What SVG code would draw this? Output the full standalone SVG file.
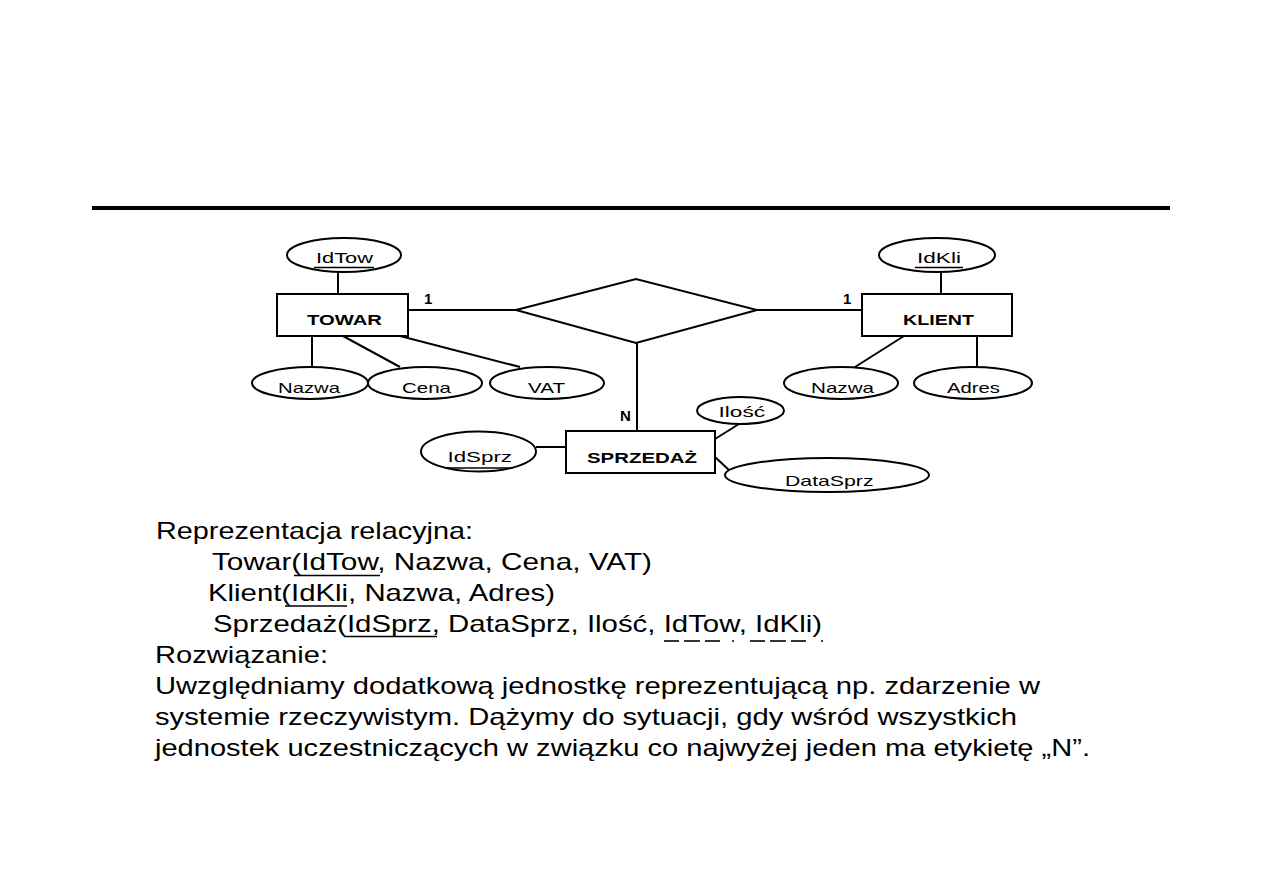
<svg xmlns="http://www.w3.org/2000/svg" width="1263" height="893" viewBox="0 0 1263 893">
<style>
.s{fill:none;stroke:#000;stroke-width:2}
.e{fill:#fff;stroke:#000;stroke-width:2}
.t{font-family:"Liberation Sans",Arial,sans-serif;fill:#000}
.lab{font-size:15px}
.ent{font-size:15px;font-weight:bold}
.card{font-size:15px;font-weight:bold}
.body{font-size:24px}
.ul{stroke:#000;stroke-width:1.6}
</style>
<rect width="1263" height="893" fill="#fff"/>
<line x1="92" y1="208" x2="1170" y2="208" stroke="#000" stroke-width="4"/>

<g id="connectors">
<line class="s" x1="338" y1="272" x2="338" y2="294"/>
<line class="s" x1="408" y1="310" x2="516" y2="310"/>
<line class="s" x1="312" y1="336" x2="312" y2="367"/>
<line class="s" x1="343" y1="336" x2="400" y2="367"/>
<line class="s" x1="400" y1="336" x2="520" y2="367"/>
<line class="s" x1="757" y1="310" x2="862" y2="310"/>
<line class="s" x1="941" y1="272" x2="941" y2="294"/>
<line class="s" x1="904" y1="336" x2="855" y2="367"/>
<line class="s" x1="977" y1="336" x2="977" y2="367"/>
<line class="s" x1="637" y1="343" x2="637" y2="431"/>
<line class="s" x1="536" y1="447" x2="566" y2="447"/>
<line class="s" x1="715" y1="439" x2="739" y2="424"/>
<line class="s" x1="715" y1="457" x2="729" y2="470"/>
</g>

<g id="rel">
<polygon class="e" points="516,310 636,279 757,310 636,343"/>
</g>

<g id="towar">
<rect class="e" x="277" y="294" width="131" height="42"/>
<text class="t ent" x="307" y="325" textLength="75" lengthAdjust="spacingAndGlyphs">TOWAR</text>
</g>
<g id="towar-card"><text class="t card" x="424" y="304">1</text></g>
<g id="idtow">
<ellipse class="e" cx="344" cy="255" rx="57" ry="17"/>
<text class="t lab" x="316" y="263" textLength="57" lengthAdjust="spacingAndGlyphs">IdTow</text>
<line class="ul" x1="314" y1="267.5" x2="374" y2="267.5"/>
</g>
<g id="nazwa1">
<ellipse class="e" cx="310" cy="383" rx="58" ry="16"/>
<text class="t lab" x="278" y="393" textLength="62" lengthAdjust="spacingAndGlyphs">Nazwa</text>
</g>
<g id="cena">
<ellipse class="e" cx="425" cy="383" rx="57" ry="16"/>
<text class="t lab" x="402" y="393" textLength="49" lengthAdjust="spacingAndGlyphs">Cena</text>
</g>
<g id="vat">
<ellipse class="e" cx="547" cy="383" rx="57" ry="16"/>
<text class="t lab" x="528" y="393" textLength="37" lengthAdjust="spacingAndGlyphs">VAT</text>
</g>

<g id="klient">
<rect class="e" x="862" y="294" width="150" height="42"/>
<text class="t ent" x="903" y="325" textLength="71" lengthAdjust="spacingAndGlyphs">KLIENT</text>
</g>
<g id="klient-card"><text class="t card" x="843" y="304">1</text></g>
<g id="idkli">
<ellipse class="e" cx="937" cy="255" rx="58" ry="17"/>
<text class="t lab" x="917" y="263" textLength="44" lengthAdjust="spacingAndGlyphs">IdKli</text>
<line class="ul" x1="915" y1="267.5" x2="963" y2="267.5"/>
</g>
<g id="nazwa2">
<ellipse class="e" cx="841" cy="383" rx="57" ry="16"/>
<text class="t lab" x="811" y="393" textLength="63" lengthAdjust="spacingAndGlyphs">Nazwa</text>
</g>
<g id="adres">
<ellipse class="e" cx="973" cy="383" rx="59" ry="16"/>
<text class="t lab" x="947" y="393" textLength="53" lengthAdjust="spacingAndGlyphs">Adres</text>
</g>

<g id="sprzedaz">
<rect class="e" x="566" y="431" width="149" height="42"/>
<text class="t ent" x="587" y="463" textLength="110" lengthAdjust="spacingAndGlyphs">SPRZEDAŻ</text>
</g>
<g id="sprzedaz-card"><text class="t card" x="620" y="421">N</text></g>
<g id="idsprz">
<ellipse class="e" cx="478.5" cy="451.5" rx="57.5" ry="20"/>
<text class="t lab" x="447.5" y="462" textLength="64.5" lengthAdjust="spacingAndGlyphs">IdSprz</text>
<line class="ul" x1="446" y1="468" x2="513" y2="468"/>
</g>
<g id="ilosc">
<ellipse class="e" cx="740.5" cy="410.5" rx="43.5" ry="13.5"/>
<text class="t lab" x="718.5" y="417" textLength="46.5" lengthAdjust="spacingAndGlyphs">Ilość</text>
</g>
<g id="datasprz">
<ellipse class="e" cx="827" cy="475" rx="102" ry="17"/>
<text class="t lab" x="785" y="486" textLength="88.5" lengthAdjust="spacingAndGlyphs">DataSprz</text>
</g>

<g id="text">
<text class="t body" x="156" y="539" textLength="317" lengthAdjust="spacingAndGlyphs">Reprezentacja relacyjna:</text>
<text class="t body" x="212" y="570" textLength="440" lengthAdjust="spacingAndGlyphs">Towar(IdTow, Nazwa, Cena, VAT)</text>
<line class="ul" x1="294" y1="575.5" x2="380" y2="575.5"/>
<text class="t body" x="208" y="601" textLength="347" lengthAdjust="spacingAndGlyphs">Klient(IdKli, Nazwa, Adres)</text>
<line class="ul" x1="285" y1="606" x2="347" y2="606"/>
<text class="t body" x="213" y="632" textLength="609" lengthAdjust="spacingAndGlyphs">Sprzedaż(IdSprz, DataSprz, Ilość, IdTow, IdKli)</text>
<line class="ul" x1="344" y1="636.5" x2="437" y2="636.5"/>
<g class="ul">
<line x1="664" y1="641" x2="679" y2="641"/>
<line x1="684" y1="641" x2="700" y2="641"/>
<line x1="705" y1="641" x2="720" y2="641"/>
<line x1="732" y1="641" x2="734" y2="641"/>
<line x1="750" y1="641" x2="765" y2="641"/>
<line x1="770" y1="641" x2="786" y2="641"/>
<line x1="791" y1="641" x2="806" y2="641"/>
<line x1="821" y1="641" x2="823" y2="641"/>
</g>
<text class="t body" x="155" y="663" textLength="173" lengthAdjust="spacingAndGlyphs">Rozwiązanie:</text>
<text class="t body" x="155" y="694" textLength="885" lengthAdjust="spacingAndGlyphs">Uwzględniamy dodatkową jednostkę reprezentującą np. zdarzenie w</text>
<text class="t body" x="155" y="725" textLength="862" lengthAdjust="spacingAndGlyphs">systemie rzeczywistym. Dążymy do sytuacji, gdy wśród wszystkich</text>
<text class="t body" x="155" y="756" textLength="935" lengthAdjust="spacingAndGlyphs">jednostek uczestniczących w związku co najwyżej jeden ma etykietę „N”.</text>
</g>
</svg>
